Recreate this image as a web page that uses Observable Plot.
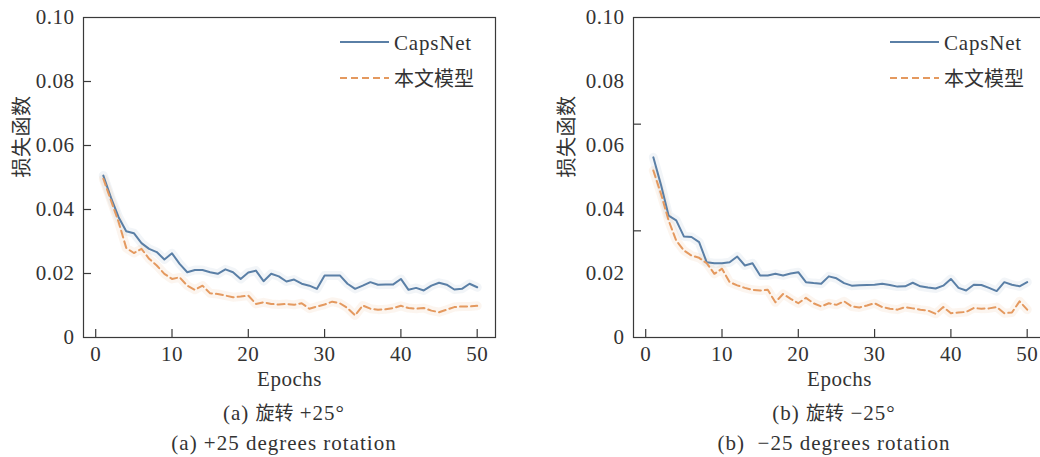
<!DOCTYPE html>
<html><head><meta charset="utf-8">
<script src="https://cdn.jsdelivr.net/npm/d3@7"></script>
<script src="https://cdn.jsdelivr.net/npm/@observablehq/plot@0.6"></script>
<style>
html,body{margin:0;padding:0;background:#fff;width:1040px;height:457px;overflow:hidden;}
#fig{position:relative;width:1040px;height:457px;overflow:hidden;}
.panel{position:absolute;top:0;width:570px;height:457px;}
.panel svg.chart{position:absolute;left:0;top:0;}
.cap{position:absolute;left:0;width:568px;text-align:center;font-family:"Liberation Serif","Noto Sans CJK SC",serif;font-size:21px;letter-spacing:1px;color:#333;line-height:24px;white-space:pre;}
.cjk{font-family:"Noto Sans CJK SC";font-size:19px;letter-spacing:0;}
.lg{position:absolute;font-family:"Liberation Serif","Noto Sans CJK SC",serif;font-size:21px;letter-spacing:0.8px;color:#333;line-height:24px;white-space:nowrap;}
.lgcjk{font-family:"Noto Sans CJK SC";font-size:20px;letter-spacing:0;}
</style>
</head><body><div id="fig"></div>
<script>
const epochs = [1,2,3,4,5,6,7,8,9,10,11,12,13,14,15,16,17,18,19,20,21,22,23,24,25,26,27,28,29,30,31,32,33,34,35,36,37,38,39,40,41,42,43,44,45,46,47,48,49,50];

// (a) +25 degrees
const capsA = [0.0506,0.0437,0.0376,0.0332,0.0326,0.0295,0.0277,0.0267,0.0244,0.0263,
               0.0230,0.0204,0.0211,0.0211,0.0204,0.0199,0.0213,0.0204,0.0183,0.0203,
               0.0209,0.0176,0.0199,0.0191,0.0175,0.0181,0.0168,0.0162,0.0152,0.0194,
               0.0194,0.0194,0.0168,0.0152,0.0162,0.0173,0.0165,0.0166,0.0166,0.0183,
               0.0149,0.0155,0.0147,0.0162,0.0171,0.0165,0.0150,0.0152,0.0168,0.0157];
const oursA = [0.0496,0.0428,0.0361,0.0280,0.0264,0.0277,0.0246,0.0225,0.0199,0.0183,
               0.0188,0.0162,0.0149,0.0162,0.0138,0.0136,0.0131,0.0126,0.0128,0.0131,
               0.0105,0.0110,0.0105,0.0103,0.0105,0.0102,0.0107,0.0090,0.0097,0.0103,
               0.0112,0.0107,0.0092,0.0069,0.0100,0.0090,0.0087,0.0088,0.0092,0.0099,
               0.0092,0.0090,0.0092,0.0084,0.0079,0.0087,0.0095,0.0097,0.0097,0.0099];

// (b) -25 degrees
const capsB = [0.0563,0.0477,0.0381,0.0366,0.0316,0.0314,0.0298,0.0235,0.0232,0.0232,
               0.0235,0.0253,0.0225,0.0232,0.0194,0.0194,0.0199,0.0194,0.0200,0.0204,
               0.0173,0.0170,0.0168,0.0191,0.0185,0.0170,0.0162,0.0163,0.0164,0.0165,
               0.0168,0.0164,0.0159,0.0160,0.0171,0.0160,0.0156,0.0153,0.0162,0.0183,
               0.0155,0.0147,0.0165,0.0164,0.0155,0.0145,0.0173,0.0165,0.0160,0.0173];
const oursB = [0.0522,0.0449,0.0366,0.0303,0.0272,0.0256,0.0249,0.0232,0.0199,0.0215,
               0.0173,0.0163,0.0155,0.0149,0.0147,0.0149,0.0110,0.0136,0.0121,0.0107,
               0.0124,0.0107,0.0097,0.0107,0.0102,0.0113,0.0097,0.0094,0.0100,0.0107,
               0.0095,0.0090,0.0087,0.0095,0.0091,0.0087,0.0084,0.0074,0.0095,0.0076,
               0.0078,0.0080,0.0092,0.0090,0.0091,0.0095,0.0076,0.0078,0.0113,0.0087];

const xTicks = [0,10,20,30,40,50];
const yTickLabels = [0,0.02,0.04,0.06,0.08,0.10];
const yTickMarksA = [0.02,0.04,0.06,0.08];
const yTickMarksB = [0.1/3,0.2/3];
const seriesNames = ["CapsNet","本文模型"];
const xLabel = "Epochs";
const yLabel = "损失函数";

const blue = "#5a7fa6", orange = "#e4995f", ink = "#333", frameInk = "#3a3a3a";
const W = 520, H = 395, ML = 83, MR = 25, MT = 17, MB = 58;
const innerW = W - ML - MR, innerH = H - MT - MB;

function chart(caps, ours, yMarks, ylabDx) {
  const rows = epochs.map((e, i) => ({epoch: e, caps: caps[i], ours: ours[i]}));
  return Plot.plot({
    width: W, height: H, marginLeft: ML, marginRight: MR, marginTop: MT, marginBottom: MB,
    style: {fontFamily: "'Liberation Serif', 'Noto Sans CJK SC', serif", fontSize: "21px", letterSpacing: "0.5px", color: ink, background: "transparent", overflow: "visible"},
    x: {domain: [-1.6, 52.4], label: null},
    y: {domain: [0, 0.1], label: null},
    marks: [
      Plot.line(rows, {x: "epoch", y: "caps", stroke: blue, strokeWidth: 9, strokeOpacity: 0.08}),
      Plot.line(rows, {x: "epoch", y: "ours", stroke: orange, strokeWidth: 9, strokeOpacity: 0.1}),
      Plot.line(rows, {x: "epoch", y: "caps", stroke: blue, strokeWidth: 2}),
      Plot.line(rows, {x: "epoch", y: "ours", stroke: orange, strokeWidth: 2, strokeDasharray: "7,4"}),
      Plot.frame({stroke: frameInk, strokeWidth: 1.2}),
      Plot.tickY(yMarks, {y: d => d, stroke: frameInk, strokeWidth: 1.2, insetRight: innerW - 8}),
      Plot.tickX(xTicks, {x: d => d, stroke: frameInk, strokeWidth: 1.2, insetTop: innerH - 8}),
      Plot.axisY(yTickLabels, {tickSize: 0, tickPadding: 9, fill: ink, tickFormat: d => d === 0 ? "0" : d3.format(".2f")(d), label: null}),
      Plot.axisX(xTicks, {tickSize: 0, tickPadding: 9, fill: ink, tickFormat: d => String(d), label: null}),
      Plot.text([xLabel], {text: d => d, frameAnchor: "bottom", dy: 42, lineAnchor: "middle", fill: ink}),
      Plot.text([yLabel], {text: d => d, frameAnchor: "left", dx: ylabDx, rotate: -90, lineAnchor: "middle", fontFamily: "Noto Sans CJK SC", fontSize: 20, fill: ink})
    ]
  });
}

function legend(panel) {
  const items = [
    {name: seriesNames[0], color: blue, dash: null, y: 42, cjk: false},
    {name: seriesNames[1], color: orange, dash: "7,4", y: 78, cjk: true}
  ];
  for (const it of items) {
    const s = d3.create("svg").attr("width", 50).attr("height", 6)
      .style("position", "absolute").style("left", "340px").style("top", (it.y - 3) + "px");
    s.append("line").attr("x1", 0).attr("x2", 49).attr("y1", 3).attr("y2", 3)
      .attr("stroke", it.color).attr("stroke-width", 2.2).attr("stroke-dasharray", it.dash);
    panel.appendChild(s.node());
    const t = document.createElement("div");
    t.className = "lg" + (it.cjk ? " lgcjk" : "");
    t.textContent = it.name;
    t.style.left = "394px";
    t.style.top = (it.y - 12 + (it.cjk ? 0 : 1)) + "px";
    panel.appendChild(t);
  }
}

function panel(left, caps, ours, yMarks, ylabDx, cap1a, cap1b, cap2) {
  const p = document.createElement("div");
  p.className = "panel";
  p.style.left = left + "px";
  const svg = chart(caps, ours, yMarks, ylabDx);
  svg.classList.add("chart");
  p.appendChild(svg);
  legend(p);
  const c1 = document.createElement("div");
  c1.className = "cap"; c1.style.top = "400px";
  c1.innerHTML = cap1a + ' <span class="cjk">旋转</span> ' + cap1b;
  p.appendChild(c1);
  const c2 = document.createElement("div");
  c2.className = "cap"; c2.style.top = "431px";
  c2.textContent = cap2;
  p.appendChild(c2);
  document.getElementById("fig").appendChild(p);
}

panel(0, capsA, oursA, yTickMarksA, -61, "(a)", "+25°", "(a) +25 degrees rotation");
panel(550, capsB, oursB, yTickMarksB, -66, "(b)", "\u221225°", "(b)  \u221225 degrees rotation");
</script>
</body></html>
